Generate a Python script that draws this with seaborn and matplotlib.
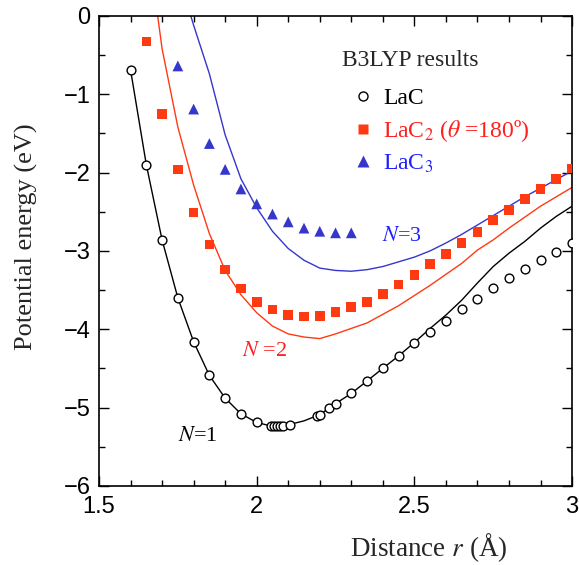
import matplotlib
matplotlib.use("Agg")
import matplotlib.pyplot as plt
import seaborn as sns
from matplotlib.lines import Line2D
from matplotlib.ticker import MultipleLocator, FuncFormatter

# B3LYP points, r in Angstrom, energy in eV
lac_r = [1.60, 1.65, 1.70, 1.75, 1.80, 1.85, 1.90, 1.95, 2.00, 2.045, 2.055, 2.065,
         2.075, 2.085, 2.105, 2.19, 2.20, 2.23, 2.25, 2.30, 2.35, 2.40, 2.45, 2.50,
         2.55, 2.60, 2.65, 2.70, 2.75, 2.80, 2.85, 2.90, 2.95, 3.00]
lac_e = [-0.69, -1.90, -2.86, -3.60, -4.16, -4.59, -4.88, -5.08, -5.19, -5.24, -5.24, -5.24,
         -5.24, -5.24, -5.22, -5.11, -5.09, -5.01, -4.95, -4.82, -4.66, -4.50, -4.34, -4.18,
         -4.03, -3.89, -3.74, -3.61, -3.48, -3.35, -3.23, -3.12, -3.01, -2.90]

lac2_r = [1.65, 1.70, 1.75, 1.80, 1.85, 1.90, 1.95, 2.00, 2.05, 2.10, 2.15, 2.20, 2.25,
          2.30, 2.35, 2.40, 2.45, 2.50, 2.55, 2.60, 2.65, 2.70, 2.75, 2.80, 2.85, 2.90,
          2.95, 3.00]
lac2_e = [-0.33, -1.25, -1.96, -2.51, -2.92, -3.24, -3.48, -3.65, -3.75, -3.82, -3.84, -3.83,
          -3.78, -3.72, -3.65, -3.55, -3.43, -3.31, -3.17, -3.04, -2.90, -2.76, -2.61, -2.48,
          -2.34, -2.21, -2.08, -1.95]

lac3_r = [1.75, 1.80, 1.85, 1.90, 1.95, 2.00, 2.05, 2.10, 2.15, 2.20, 2.25, 2.30]
lac3_e = [-0.64, -1.19, -1.63, -1.96, -2.21, -2.40, -2.53, -2.63, -2.71, -2.75, -2.77, -2.77]

# model curves N=1, 2, 3
n1_r = [1.60, 1.65, 1.70, 1.75, 1.80, 1.85, 1.90, 1.95, 2.00, 2.05, 2.10, 2.15, 2.20, 2.25,
        2.30, 2.35, 2.40, 2.45, 2.50, 2.55, 2.60, 2.65, 2.70, 2.75, 2.80, 2.85, 2.90, 2.95, 3.00]
n1_e = [-0.69, -1.90, -2.86, -3.60, -4.16, -4.59, -4.88, -5.08, -5.19, -5.24, -5.22, -5.17,
        -5.09, -4.95, -4.82, -4.66, -4.50, -4.34, -4.17, -3.99, -3.82, -3.63, -3.41, -3.20,
        -3.03, -2.88, -2.71, -2.56, -2.43]

n2_r = [1.686, 1.70, 1.75, 1.80, 1.85, 1.90, 1.95, 2.00, 2.05, 2.10, 2.15, 2.20, 2.25, 2.30,
        2.35, 2.40, 2.45, 2.50, 2.55, 2.60, 2.65, 2.70, 2.75, 2.80, 2.85, 2.90, 2.95, 3.00]
n2_e = [0.0, -0.42, -1.42, -2.16, -2.78, -3.25, -3.56, -3.79, -3.96, -4.06, -4.10, -4.12,
        -4.06, -3.99, -3.92, -3.81, -3.70, -3.57, -3.44, -3.30, -3.16, -2.99, -2.86, -2.71,
        -2.57, -2.43, -2.31, -2.19]

n3_r = [1.791, 1.80, 1.85, 1.90, 1.95, 2.00, 2.05, 2.10, 2.15, 2.20, 2.25, 2.30, 2.35, 2.40,
        2.45, 2.50, 2.55, 2.60, 2.65, 2.70, 2.75, 2.80, 2.85, 2.90, 2.95, 3.00]
n3_e = [0.0, -0.12, -0.74, -1.52, -2.08, -2.45, -2.75, -2.97, -3.12, -3.22, -3.25, -3.26,
        -3.24, -3.20, -3.14, -3.08, -3.00, -2.90, -2.79, -2.67, -2.55, -2.43, -2.31, -2.20,
        -2.09, -1.98]

red = '#ff3a12'
blue = '#3636cc'

sns.set_theme(style="ticks")
plt.rcParams['font.family'] = ['Liberation Sans', 'DejaVu Sans']
plt.rcParams['mathtext.fontset'] = 'stix'
serif = ['Liberation Serif', 'DejaVu Serif']

fig, ax = plt.subplots(figsize=(5.79, 5.65), dpi=100)
fig.subplots_adjust(left=0.171, right=0.988, bottom=0.140, top=0.972)

sns.lineplot(x=n1_r, y=n1_e, color='black', lw=1, ax=ax)
sns.lineplot(x=n2_r, y=n2_e, color=red, lw=1, ax=ax)
sns.lineplot(x=n3_r, y=n3_e, color=blue, lw=1, ax=ax)

sns.scatterplot(x=lac_r, y=lac_e, marker='o', s=40, color='white', edgecolor='black',
                linewidth=1, ax=ax, zorder=3)
sns.scatterplot(x=lac2_r, y=lac2_e, marker='s', s=48, color=red, edgecolor='none',
                linewidth=0, ax=ax, zorder=3)
sns.scatterplot(x=lac3_r, y=lac3_e, marker='^', s=60, color=blue, edgecolor='none',
                linewidth=0, ax=ax, zorder=3)

ax.set_xlim(1.5, 3.0)
ax.set_ylim(-6, 0)
ax.xaxis.set_major_locator(MultipleLocator(0.5))
ax.xaxis.set_minor_locator(MultipleLocator(0.1))
ax.yaxis.set_major_locator(MultipleLocator(1))
ax.yaxis.set_minor_locator(MultipleLocator(0.5))
fmt = FuncFormatter(lambda v, p: f"{v:g}".replace('-', '\u2212'))
ax.xaxis.set_major_formatter(fmt)
ax.yaxis.set_major_formatter(fmt)
ax.tick_params(which='both', direction='in', top=True, right=True, width=1, colors='black',
               labelsize=17)
ax.tick_params(which='major', length=7)
ax.tick_params(axis='x', which='major', pad=7)
ax.tick_params(axis='y', which='major', pad=6)
ax.tick_params(which='minor', length=4)
for sp in ax.spines.values():
    sp.set_linewidth(1.2)
    sp.set_color('black')

ax.set_xlabel(r'Distance $r$ (Å)', fontsize=19.5, family=serif)
ax.xaxis.set_label_coords(0.696, -0.096)
ax.set_ylabel('Potential energy (eV)', fontsize=19, family=serif)
ax.yaxis.set_label_coords(-0.129, 0.531)

ax.text(1.75, -5.37, r'$N$=1', fontsize=16, family=serif, color='black', va='center')
ax.text(1.953, -4.29, r'$N$ =2', fontsize=16, family=serif, color='#ff1f1f', va='center')
ax.text(2.398, -2.82, r'$N$=3', fontsize=16, family=serif, color='#2020ff', va='center')

ax.text(0.514, 0.906, 'B3LYP results', transform=ax.transAxes, fontsize=17,
        family=serif, va='center', ha='left')
handles = [
    Line2D([], [], ls='none', marker='o', ms=6.5, mfc='white', mec='black', mew=1),
    Line2D([], [], ls='none', marker='s', ms=7, mfc=red, mec='none'),
    Line2D([], [], ls='none', marker='^', ms=8, mfc=blue, mec='none'),
]
labels = ['LaC', r'LaC$_2$ ($\theta$ =180º)', r'LaC$_3$']
ax.legend(handles, labels, loc='upper left', bbox_to_anchor=(0.534, 0.847),
          frameon=False, borderpad=0, borderaxespad=0, handlelength=1.0,
          handletextpad=0.35, labelspacing=0.37,
          prop={'family': serif, 'size': 17},
          labelcolor=['black', '#ff1f1f', '#2020ff'])

fig.savefig('out.png', dpi=100)
